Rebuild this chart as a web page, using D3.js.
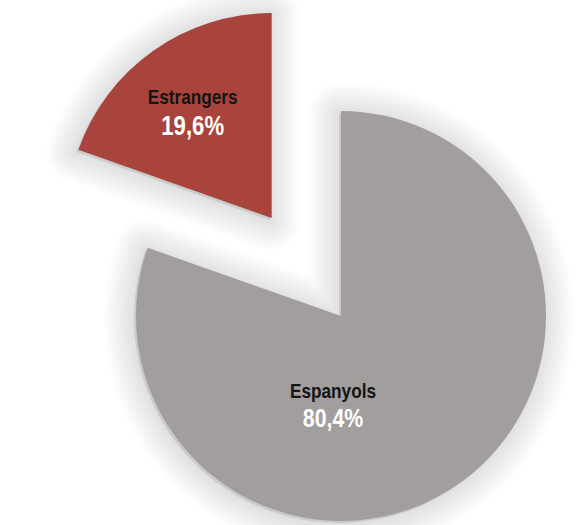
<!DOCTYPE html>
<html>
<head>
<meta charset="utf-8">
<script src="https://cdn.jsdelivr.net/npm/d3@7"></script>
<style>
html,body{margin:0;padding:0;background:#ffffff;}
svg{display:block;}
</style>
</head>
<body>
<svg id="chart" width="588" height="525"></svg>
<script>
const categories = ["Espanyols", "Estrangers"];
const values = [80.4, 19.6];
const valueLabels = ["80,4%", "19,6%"];
const colors = ["#a19e9d", "#a8443c"];
const nameColors = ["#141414", "#141414"];

const W = 588, H = 525;
const cx = 341, cy = 316, R = 205;
const explode = [0, 120];
const labelOffset = [[-8, 82], [-79, -114]];

const svg = d3.select("#chart");

const pie = d3.pie().sort(null).value(d => d)(values);
const arc = d3.arc().innerRadius(0).outerRadius(R);

const g = svg.append("g").attr("transform", `translate(${cx},${cy})`);

const shift = (d, i) => {
  const a = (d.startAngle + d.endAngle) / 2;
  return [Math.sin(a) * explode[i], -Math.cos(a) * explode[i]];
};

// soft shadow built from layered strokes
const shadowLayers = d3.range(1, 16);
const sh = g.append("g").attr("class", "shadow");
pie.forEach((d, i) => {
  const [dx, dy] = shift(d, i);
  const sg = sh.append("g").attr("transform", `translate(${dx - 2},${dy + 2})`);
  sg.append("path").attr("d", arc(d)).attr("fill", "#8c8c8c").attr("fill-opacity", 0.2);
  sg.selectAll("path.l").data(shadowLayers).enter().append("path")
    .attr("class", "l")
    .attr("d", arc(d))
    .attr("fill", "none")
    .attr("stroke", "#8c8c8c")
    .attr("stroke-opacity", 0.015)
    .attr("stroke-linejoin", "round")
    .attr("stroke-width", k => k * 4);
});

const slices = g.selectAll("g.slice").data(pie).enter().append("g")
  .attr("class", "slice")
  .attr("transform", (d, i) => `translate(${shift(d, i)})`);

slices.append("path")
  .attr("d", arc)
  .attr("fill", (d, i) => colors[i]);

const font = "'Liberation Sans', Arial, sans-serif";
const narrow = 0.82;

slices.append("text")
  .attr("transform", (d, i) => `translate(${labelOffset[i][0]},${labelOffset[i][1]}) scale(${narrow},1)`)
  .attr("text-anchor", "middle")
  .attr("font-family", font)
  .attr("font-weight", "bold")
  .attr("font-size", 21)
  .attr("fill", (d, i) => nameColors[i])
  .text((d, i) => categories[i]);

slices.append("text")
  .attr("transform", (d, i) => `translate(${labelOffset[i][0]},${labelOffset[i][1] + (i === 0 ? 29 : 31)}) scale(${narrow},1)`)
  .attr("text-anchor", "middle")
  .attr("font-family", font)
  .attr("font-weight", "bold")
  .attr("font-size", (d, i) => i === 0 ? 26 : 27)
  .attr("fill", "#ffffff")
  .text((d, i) => valueLabels[i]);
</script>
</body>
</html>
